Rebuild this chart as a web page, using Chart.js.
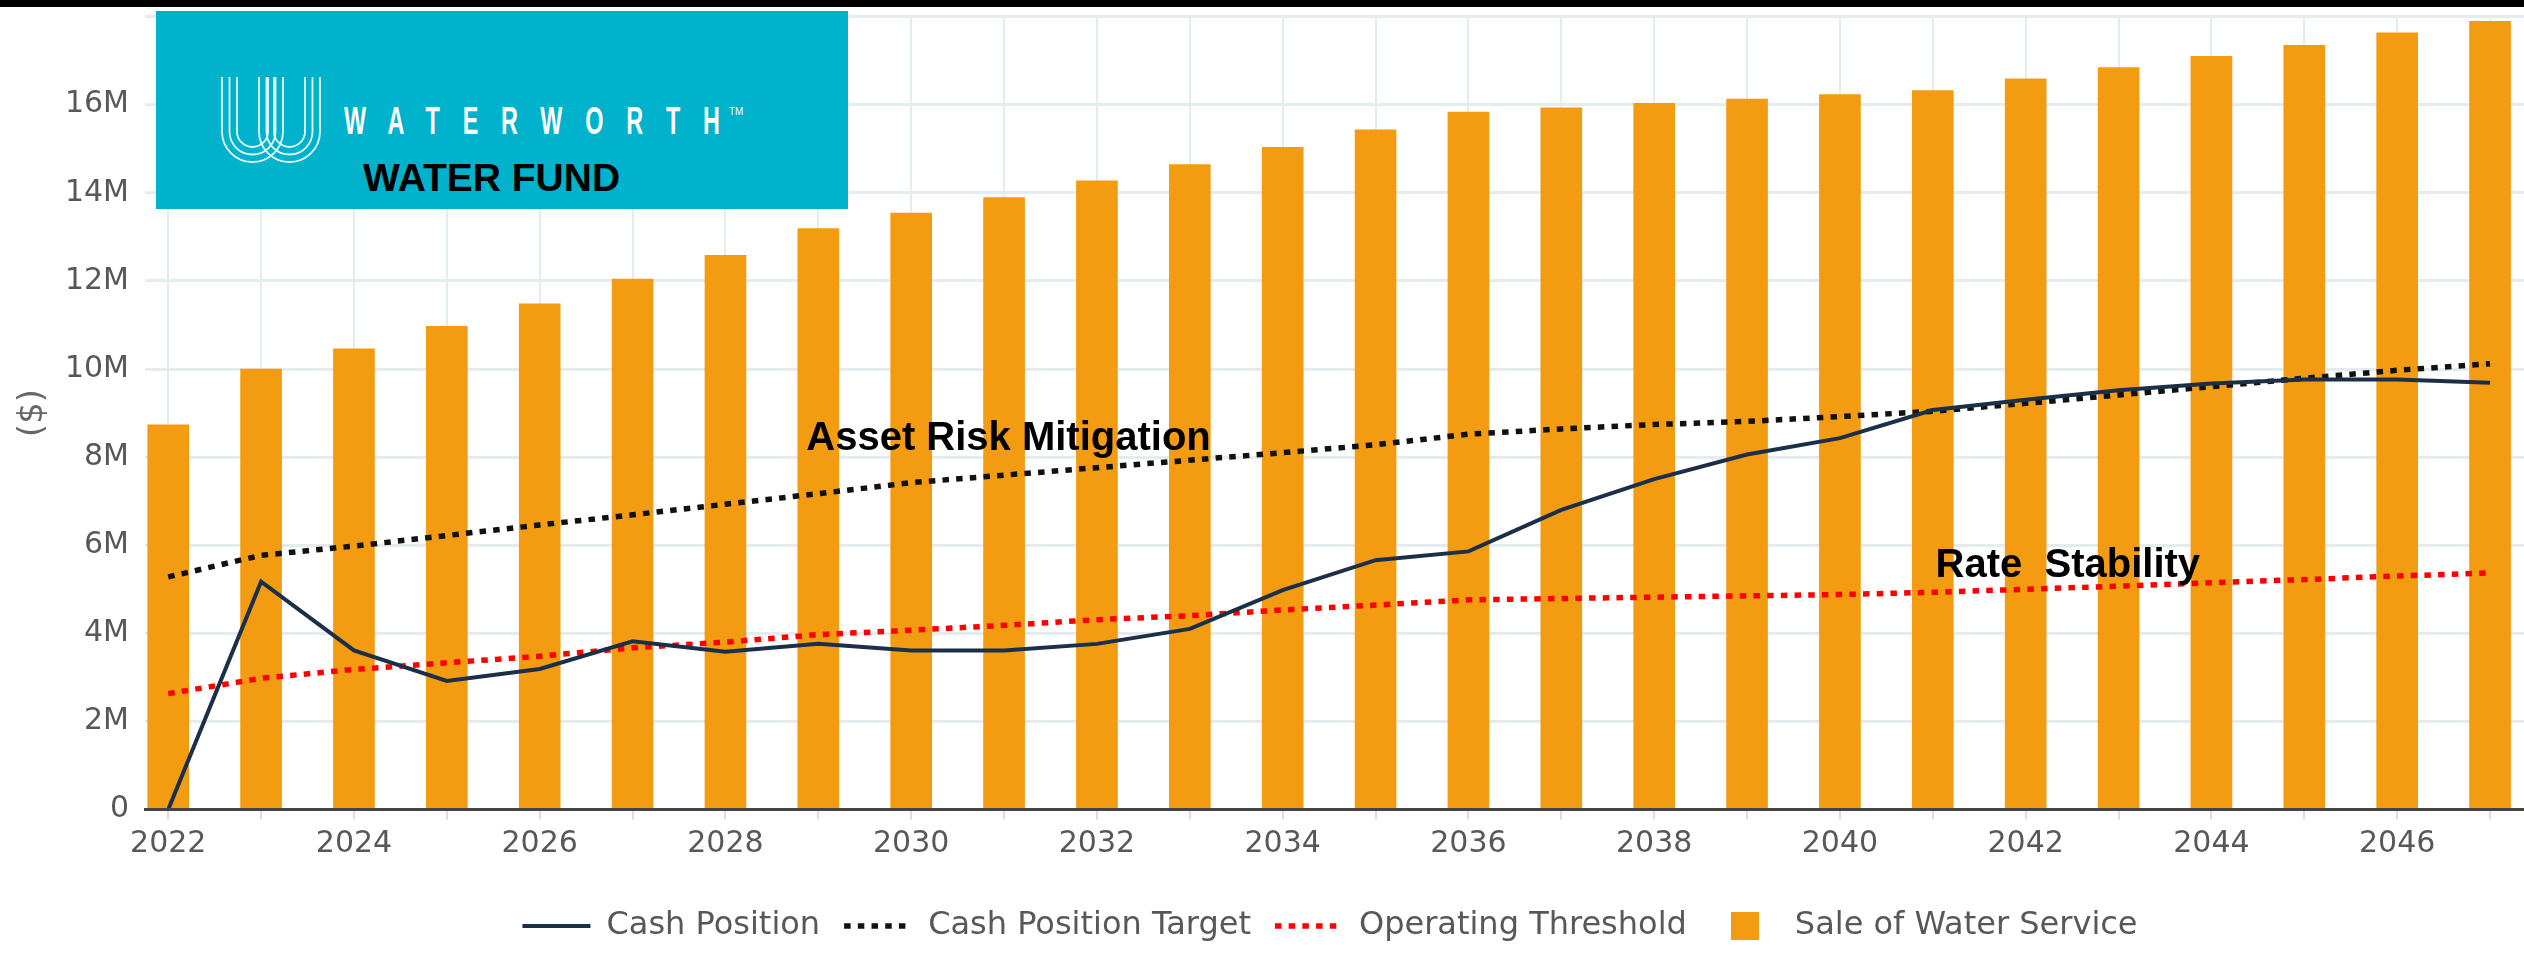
<!DOCTYPE html>
<html>
<head>
<meta charset="utf-8">
<title>Water Fund - Cash Position</title>
<script src="https://cdn.jsdelivr.net/npm/chart.js@4.4.0/dist/chart.umd.min.js"></script>
<style>
    html, body { margin: 0; padding: 0; background: #fff; overflow: hidden; }
    #wrap { position: relative; width: 2524px; height: 953px; overflow: hidden; }
    #fundChart { position: absolute; left: 0; top: 0; }
    #topBar { position: absolute; left: 0; top: 0; width: 100%; height: 7px; background: #000; }
    #logo { position: absolute; left: 156px; top: 11px; }
</style>
</head>
<body>
<div id="wrap">
    <canvas id="fundChart" width="2660" height="953"></canvas>
    <svg id="logo" width="692" height="198" xmlns="http://www.w3.org/2000/svg">
        <rect x="0" y="0" width="692" height="198" fill="#00b2cb"/>
        <g id="logoMark" fill="none" stroke="#e8fbff" stroke-width="1.8"></g>
        <text transform="translate(188 123) scale(0.6 1)" font-family="Liberation Sans" font-weight="bold"
              font-size="39" letter-spacing="38" fill="#fff">WATERWORTH</text>
        <text x="573" y="104" font-family="Liberation Sans" font-size="10" fill="#fff">TM</text>
        <text x="207" y="180" font-family="Liberation Sans" font-weight="bold" font-size="39" fill="#000">WATER FUND</text>
    </svg>
    <div id="topBar"></div>
</div>
<script>
// Years on the x axis
const years = [2022, 2023, 2024, 2025, 2026, 2027, 2028, 2029, 2030, 2031, 2032, 2033, 2034,
               2035, 2036, 2037, 2038, 2039, 2040, 2041, 2042, 2043, 2044, 2045, 2046, 2047];

// All values in millions of dollars
const saleOfWater = [8.73, 10.0, 10.46, 10.97, 11.48, 12.04, 12.58, 13.19, 13.54, 13.89, 14.27, 14.64, 15.03,
                     15.43, 15.83, 15.93, 16.03, 16.13, 16.23, 16.32, 16.59, 16.84, 17.10, 17.35, 17.63, 17.89];
const cashPosition = [0, 5.17, 3.61, 2.92, 3.19, 3.82, 3.58, 3.76, 3.61, 3.61, 3.76, 4.10, 4.98,
                      5.66, 5.86, 6.80, 7.50, 8.06, 8.43, 9.07, 9.30, 9.52, 9.67, 9.76, 9.76, 9.69];
const cashTarget = [5.28, 5.77, 5.98, 6.22, 6.46, 6.69, 6.93, 7.17, 7.42, 7.59, 7.76, 7.93, 8.10,
                    8.28, 8.52, 8.64, 8.74, 8.81, 8.92, 9.04, 9.22, 9.41, 9.60, 9.79, 9.97, 10.12];
const operatingThreshold = [2.63, 2.98, 3.18, 3.33, 3.48, 3.67, 3.80, 3.97, 4.07, 4.18, 4.31, 4.40, 4.53,
                            4.64, 4.76, 4.79, 4.82, 4.85, 4.88, 4.93, 5.00, 5.07, 5.15, 5.22, 5.30, 5.37];

const yTickValues = [0, 2, 4, 6, 8, 10, 12, 14, 16, 18];

// Text notes placed on the chart (x in years, y in millions)
const notes = [
    { text: 'Asset Risk Mitigation', x: 2028.87, y: 8.16 },
    { text: 'Rate  Stability', x: 2041.03, y: 5.28 }
];

const FONT = 'DejaVu Sans';
const TEXT_GREY = '#585858';
const GRID = '#e5ecef';

// W mark of the logo: two U shapes made of three nested strokes
function drawLogoMark() {
    const parts = [];
    [0, 37].forEach(dx => {
        [0, 7.5, 15].forEach(k => {
            const x1 = 66 + dx + k;
            const x2 = 127 + dx - k;
            const r = (x2 - x1) / 2;
            const bottom = 151 - k;
            parts.push(`<path d="M${x1} 66 V${bottom - r} A${r} ${r} 0 0 0 ${x2} ${bottom - r} V66"/>`);
        });
    });
    document.getElementById('logoMark').innerHTML = parts.join('');
}

// Square swatch for the bar entry in the legend
function legendSquare(color) {
    const c = document.createElement('canvas');
    c.width = 28;
    c.height = 28;
    const g = c.getContext('2d');
    g.fillStyle = color;
    g.fillRect(0, 0, 28, 28);
    return c;
}

const notesPlugin = {
    id: 'notes',
    afterDatasetsDraw(chart) {
        const { ctx, scales: { x, y } } = chart;
        ctx.save();
        ctx.font = 'bold 40px "Liberation Sans"';
        ctx.fillStyle = '#000';
        ctx.textBaseline = 'alphabetic';
        notes.forEach(n => ctx.fillText(n.text, x.getPixelForValue(n.x), y.getPixelForValue(n.y)));
        ctx.restore();
    }
};

function initFundChart() {
    const ctx = document.getElementById('fundChart').getContext('2d');
    return new Chart(ctx, {
        type: 'bar',
        data: {
            labels: years,
            datasets: [{
                type: 'line',
                label: 'Cash Position',
                data: cashPosition,
                borderColor: '#1b2f48',
                borderWidth: 4,
                pointRadius: 0,
                tension: 0,
                order: 1
            }, {
                type: 'line',
                label: 'Cash Position Target',
                data: cashTarget,
                borderColor: '#111111',
                borderWidth: 5.5,
                borderDash: [6.5, 7.2],
                pointRadius: 0,
                order: 2
            }, {
                type: 'line',
                label: 'Operating Threshold',
                data: operatingThreshold,
                borderColor: '#ff0000',
                borderWidth: 5.5,
                borderDash: [6.5, 7.2],
                pointRadius: 0,
                order: 3
            }, {
                type: 'bar',
                label: 'Sale of Water Service',
                data: saleOfWater,
                backgroundColor: '#f39c12',
                barThickness: 41,
                order: 4
            }]
        },
        options: {
            responsive: false,
            animation: false,
            devicePixelRatio: 1,
            layout: { padding: { top: 10, bottom: 1, left: 0, right: 0 } },
            scales: {
                x: {
                    type: 'linear',
                    min: 2021.75,
                    max: 2048.83,
                    offset: false,
                    afterBuildTicks: s => { s.ticks = years.map(v => ({ value: v })); },
                    afterFit: s => { s.height = 76.5; },
                    ticks: {
                        autoSkip: false,
                        maxRotation: 0,
                        padding: 6.5,
                        color: TEXT_GREY,
                        font: { family: FONT, size: 30 },
                        callback: v => (v % 2 === 0 ? String(v) : '')
                    },
                    grid: { color: GRID, lineWidth: 2, offset: false, tickLength: 10, tickColor: '#d6e0e4' },
                    border: { display: true, color: '#444444', width: 3, z: 1 }
                },
                y: {
                    min: 0,
                    max: 18,
                    afterBuildTicks: s => { s.ticks = yTickValues.map(v => ({ value: v })); },
                    afterFit: s => { s.width = 145; },
                    ticks: {
                        padding: 16,
                        color: TEXT_GREY,
                        font: c => ({ family: FONT, size: c.tick && c.tick.value === 18 ? 1 : 30 }),
                        callback: v => (v === 18 ? '' : v === 0 ? '0' : v + 'M')
                    },
                    grid: { color: GRID, lineWidth: 3, drawTicks: false },
                    border: { display: false },
                    title: {
                        display: true,
                        text: '($)',
                        color: '#666666',
                        font: { family: FONT, size: 34 },
                        padding: { top: 12.6, bottom: 0 }
                    }
                }
            },
            plugins: {
                tooltip: { enabled: false },
                legend: {
                    position: 'bottom',
                    labels: {
                        usePointStyle: true,
                        pointStyleWidth: 68,
                        padding: 24,
                        color: TEXT_GREY,
                        font: { family: FONT, size: 32 },
                        generateLabels: chart => chart.data.datasets.map((ds, i) => ({
                            text: ds.label,
                            datasetIndex: i,
                            fontColor: TEXT_GREY,
                            hidden: false,
                            fillStyle: ds.backgroundColor || ds.borderColor,
                            strokeStyle: ds.borderColor || ds.backgroundColor,
                            lineWidth: ds.type === 'bar' ? 0 : ds.borderWidth,
                            lineDash: ds.borderDash || [],
                            lineCap: 'butt',
                            pointStyle: ds.type === 'bar' ? legendSquare(ds.backgroundColor) : 'line'
                        }))
                    }
                }
            }
        },
        plugins: [notesPlugin]
    });
}

document.addEventListener('DOMContentLoaded', () => {
    drawLogoMark();
    initFundChart();
});
</script>
</body>
</html>
